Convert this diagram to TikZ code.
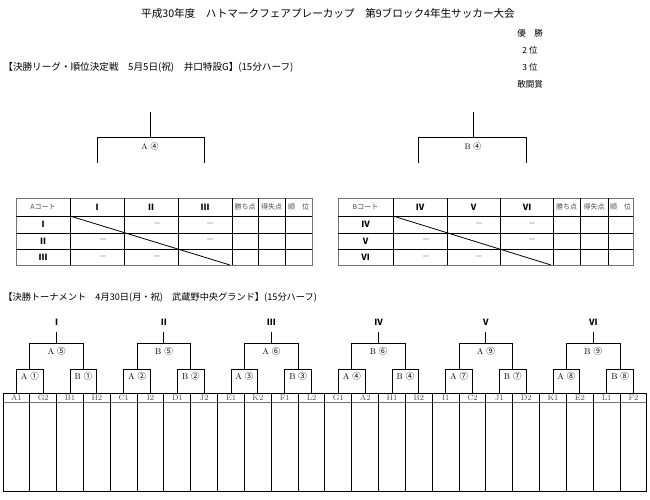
\documentclass[tikz,border=0pt]{standalone}
\usepackage{fontspec}
\newfontfamily\jp{Noto Sans CJK JP}
\newcommand{\jpc}[1]{{\jp #1}}
\begin{document}
\begin{tikzpicture}[x=1pt,y=-1pt,line width=0.9pt,
  jtext/.style={font=\jp\fontsize{8.5}{10}\selectfont,inner sep=0pt},
  roman/.style={font=\jp\bfseries\fontsize{8.5}{10}\selectfont,inner sep=0pt},
  cell/.style={font=\fontsize{8}{9}\selectfont,inner sep=0pt},
  small/.style={font=\jp\fontsize{7}{8}\selectfont,inner sep=0pt,text=black!70},
  nomatch/.style={font=\jp\fontsize{8}{9}\selectfont,inner sep=0pt,text=black!55},
  bline/.style={line width=1pt},
  gline/.style={line width=0.6pt,black!55}]
\useasboundingbox (0,0) rectangle (650,500);
% headings
\node[jtext,font=\jp\fontsize{10.6}{12}\selectfont] (title) at (328,13) {平成30年度　ハトマークフェアプレーカップ　第9ブロック4年生サッカー大会};
\node[jtext] (win) at (530,33) {優　勝};
\node[jtext] (second) at (530,50) {2 位};
\node[jtext] (third) at (530,67) {3 位};
\node[jtext] (fight) at (530,84) {敢闘賞};
\node[jtext,anchor=west,font=\jp\fontsize{9.6}{11}\selectfont] (league) at (3,67) {【決勝リーグ・順位決定戦　5月5日(祝)　井口特設G】(15分ハーフ)};
\node[jtext,anchor=west,font=\jp\fontsize{9.2}{11}\selectfont] (cup) at (3,298) {【決勝トーナメント　4月30日(月・祝)　武蔵野中央グランド】(15分ハーフ)};

% final brackets
\draw[bline] (150,112) -- (150,137) (97,163) -- (97,137) -- (204,137) -- (204,163);
\node[cell] (finA) at (150,146) {A \jpc{④}};
\draw[bline] (473,112) -- (473,137) (418,163) -- (418,137) -- (526,137) -- (526,163);
\node[cell] (finB) at (473,146) {B \jpc{④}};

% league table A
\draw[gline] (16,198) rectangle (312,265);
\foreach \x in {70,124,178,232,258,285} \draw[bline] (\x,198) -- (\x,265);
\foreach \y in {216,233,249} \draw[bline] (16,\y) -- (312,\y);
\draw[line width=0.8pt] (70,216) -- (230,265);
\node[small] (acourt) at (43,207) {Aコート};
\foreach \lab [count=\i from 0] in {Ⅰ,Ⅱ,Ⅲ} {
  \node[roman] (ac\i) at ({97+54*\i},207) {\lab};
  \node[roman] (ar\i) at (43,{224.5+16.5*\i}) {\lab};
}
\node[small] (apts) at (245,207) {勝ち点};
\node[small] (agd) at (271.5,207) {得失点};
\node[small] (arank) at (298.5,207) {順　位};
\foreach \x/\y [count=\i] in {157/224.5,210/224.5,103/241,210/241,103/257.5,157/257.5}
  \node[nomatch] (ad\i) at (\x,\y) {－};

% league table B
\draw[gline] (338,198) rectangle (633,265);
\foreach \x in {393,447,500,553,580,608} \draw[bline] (\x,198) -- (\x,265);
\foreach \y in {216,233,249} \draw[bline] (338,\y) -- (633,\y);
\draw[line width=0.8pt] (393,216) -- (551,265);
\node[small] (bcourt) at (365.5,207) {Bコート};
\foreach \lab [count=\i from 0] in {Ⅳ,Ⅴ,Ⅵ} {
  \node[roman] (bc\i) at ({420+53.5*\i},207) {\lab};
  \node[roman] (br\i) at (365.5,{224.5+16.5*\i}) {\lab};
}
\node[small] (bpts) at (566.5,207) {勝ち点};
\node[small] (bgd) at (594,207) {得失点};
\node[small] (brank) at (620.5,207) {順　位};
\foreach \x/\y [count=\i] in {479/224.5,532/224.5,426/241,532/241,426/257.5,479/257.5}
  \node[nomatch] (bd\i) at (\x,\y) {－};

% tournament grid
\draw[bline] (3,393) -- (647,393);
\draw[gline] (3,402) -- (647,402);
\draw[bline] (3,491) -- (647,491);
\foreach \i in {0,...,24} \draw[bline] ({3+26.83*\i},393) -- ({3+26.83*\i},491);
\foreach \lab [count=\i from 0] in {A1,G2,B1,H2,C1,I2,D1,J2,E1,K2,F1,L2,G1,A2,H1,B2,I1,C2,J1,D2,K1,E2,L1,F2}
  \node[cell,text=black!70] (t\i) at ({3+26.83*(\i+0.5)},397.5) {\lab};

% first round
\foreach \s/\n [count=\k from 0] in {A/①,B/①,A/②,B/②,A/③,B/③,A/④,B/④,A/⑦,B/⑦,A/⑧,B/⑧} {
  \draw[bline] ({3+26.83*(2*\k+0.5)},393) -- ({3+26.83*(2*\k+0.5)},369)
    -- ({3+26.83*(2*\k+1.5)},369) -- ({3+26.83*(2*\k+1.5)},393);
  \node[cell,font=\fontsize{8.5}{9}\selectfont] (r1-\k) at ({3+26.83*(2*\k+1)},376) {\s\ \jpc{\n}};
}
% second round
\foreach \s/\n/\r [count=\j from 0] in {A/⑤/Ⅰ,B/⑤/Ⅱ,A/⑥/Ⅲ,B/⑥/Ⅳ,A/⑨/Ⅴ,B/⑨/Ⅵ} {
  \draw[bline] ({3+26.83*(4*\j+1)},369) -- ({3+26.83*(4*\j+1)},343)
    -- ({3+26.83*(4*\j+3)},343) -- ({3+26.83*(4*\j+3)},369);
  \draw[bline] ({3+26.83*(4*\j+2)},343) -- ({3+26.83*(4*\j+2)},332);
  \node[cell,font=\fontsize{8.5}{9}\selectfont] (r2-\j) at ({3+26.83*(4*\j+2)},351) {\s\ \jpc{\n}};
  \node[roman] (blk\j) at ({3+26.83*(4*\j+2)},322) {\r};
}
\end{tikzpicture}
\end{document}
